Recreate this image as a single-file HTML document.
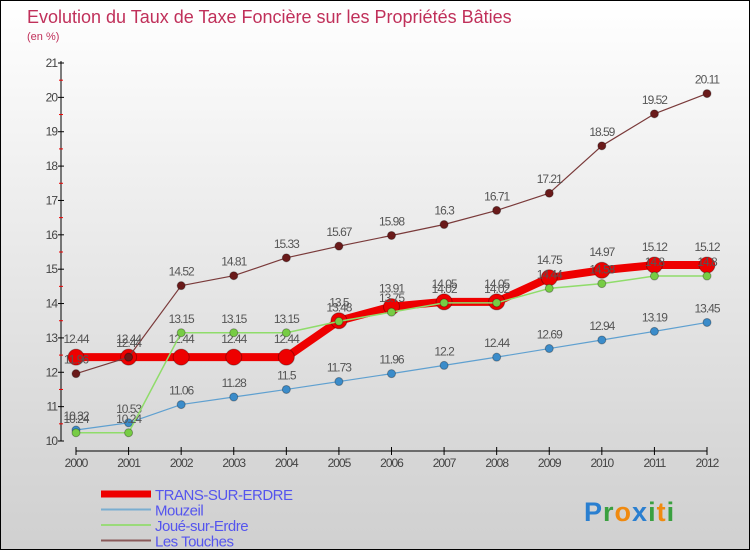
<!DOCTYPE html>
<html><head><meta charset="utf-8"><style>
body{margin:0}
#c{position:relative;width:748px;height:548px;border:1px solid #000;background:linear-gradient(#fff,#f3f3f3 25%,#d8d8d8 80%,#d0d0d0);font-family:"Liberation Sans",sans-serif;overflow:hidden}
</style></head><body>
<div id="c">
<svg width="748" height="548" id="s"></svg>
</div>
<script>
const years=["2000","2001","2002","2003","2004","2005","2006","2007","2008","2009","2010","2011","2012"];
const trans=[12.44,12.44,12.44,12.44,12.44,13.5,13.91,14.05,14.05,14.75,14.97,15.12,15.12];
const mouzeil=[10.32,10.53,11.06,11.28,11.5,11.73,11.96,12.2,12.44,12.69,12.94,13.19,13.45];
const joue=[10.24,10.24,13.15,13.15,13.15,13.48,13.75,14.02,14.02,14.44,14.58,14.8,14.8];
const touches=[11.96,12.44,14.52,14.81,15.33,15.67,15.98,16.3,16.71,17.21,18.59,19.52,20.11];
const yTicks=[10,11,12,13,14,15,16,17,18,19,20,21];
const NS="http://www.w3.org/2000/svg",s=document.getElementById('s');
function X(i){return 75+i*(706-75)/12;}
function Y(v){return 440-(v-10)*(440-62)/11;}
function el(t,a,p){const e=document.createElementNS(NS,t);for(const k in a)e.setAttribute(k,a[k]);(p||s).appendChild(e);return e;}
function tx(x,y,str,a){const e=el('text',Object.assign({x:x,y:y,'font-size':12,fill:'#444'},a||{}));e.textContent=str;return e;}
let t=tx(26,22,'Evolution du Taux de Taxe Foncière sur les Propriétés Bâties',{'font-size':18,fill:'#c0305a'});

t=tx(26,39,'(en %)',{'font-size':11,fill:'#c0305a'});

let ax=el('line',{x1:60,y1:60,x2:60,y2:440,stroke:'#000'});

yTicks.forEach(v=>{el('line',{x1:57,x2:63,y1:Y(v),y2:Y(v),stroke:'#000'});
 if(v<21)el('line',{x1:58,x2:62,y1:Y(v+0.5),y2:Y(v+0.5),stroke:'#e00'});
 const l=tx(56,Y(v)+4,String(v),{'text-anchor':'end','letter-spacing':'-1'});
 });
ax=el('line',{x1:75,y1:450,x2:706,y2:450,stroke:'#000'});

years.forEach((y,i)=>{el('line',{x1:X(i),x2:X(i),y1:446,y2:454,stroke:'#000'});
 const l=tx(X(i),466,y,{'text-anchor':'middle','letter-spacing':'-1'});
 });
const series=[
 {n:'les-touches',d:touches,c:'#7a3a3a',w:1.2,r:4,f:'#6a1a1a'},
 {n:'joue-sur-erdre',d:joue,c:'#8fdc6a',w:1.5,r:4,f:'#77cc44'},
 {n:'mouzeil',d:mouzeil,c:'#5fa0d0',w:1.2,r:4,f:'#3b8cca'},
 {n:'trans-sur-erdre',d:trans,c:'#ee0000',w:8,r:8,f:'#ee0000'}];
[series[3],series[2],series[1],series[0]].forEach(sr=>{
 const g=el('g',{});
 const p=el('polyline',{points:sr.d.map((v,i)=>X(i)+','+Y(v)).join(' '),fill:'none',stroke:sr.c,'stroke-width':sr.w,'stroke-linejoin':'round'},g);
 
 sr.d.forEach((v,i)=>{const c=el('circle',{cx:X(i),cy:Y(v),r:sr.r,fill:sr.f,stroke:'rgba(0,0,0,0.3)'},g);
  
  const l=tx(X(i),Y(v)-(sr.r+6),String(v),{'text-anchor':'middle','letter-spacing':'-1',fill:'#555'},g);
  });
});
const leg=[['TRANS-SUR-ERDRE','#ee0000',7],['Mouzeil','#7aaed0',2],['Joué-sur-Erdre','#9ada7a',2],['Les Touches','#8a5a5a',2]];
leg.forEach((l,i)=>{const g=el('g',{});
 const y=493+i*15.5;el('line',{x1:100,x2:150,y1:y,y2:y,stroke:l[1],'stroke-width':l[2]},g);
 tx(154,y+6,l[0],{'font-size':15,fill:'#5555ee','letter-spacing':'-0.5'},g);});
const lg=el('text',{x:583,y:520,'font-size':27,'font-weight':'bold','letter-spacing':'1'});

[['P','#2a7fd0'],['r','#3aa040'],['o','#f08a10'],['x','#2a7fd0'],['i','#3aa040'],['t','#f08a10'],['i','#3aa040']].forEach(a=>{const ts=el('tspan',{fill:a[1]},lg);ts.textContent=a[0];});
</script>
</body></html>
